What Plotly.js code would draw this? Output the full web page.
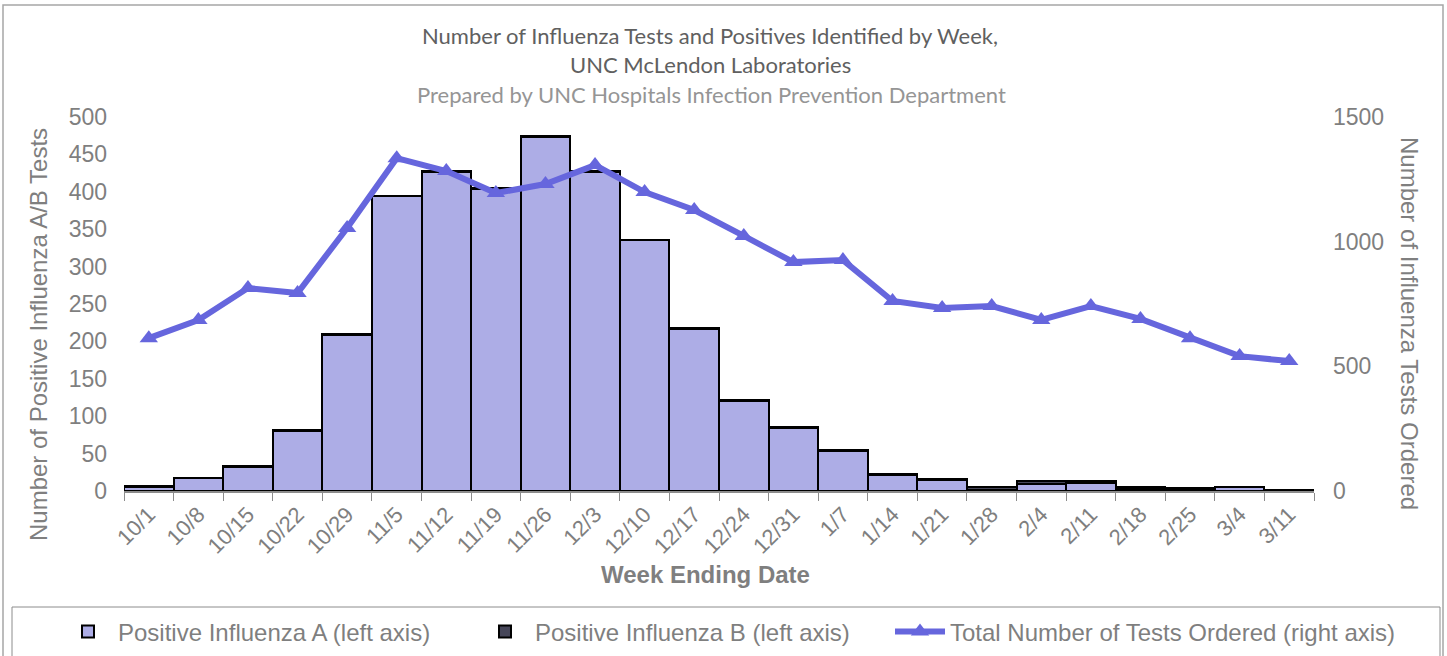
<!DOCTYPE html>
<html>
<head>
<meta charset="utf-8">
<script src="https://cdn.plot.ly/plotly-3.0.1.min.js"></script>
<style>html,body{margin:0;padding:0;background:#fff;}#chart{width:1447px;height:656px;}</style>
</head>
<body>
<div id="chart"></div>
<script>
// ---- data ----
const weeks = ["10/1","10/8","10/15","10/22","10/29","11/5","11/12","11/19","11/26","12/3","12/10","12/17","12/24","12/31","1/7","1/14","1/21","1/28","2/4","2/11","2/18","2/25","3/4","3/11"];
const positiveA = [5,17,32,80,209,394,427,404,473,427,335,217,120,84,53,22,15,1,10,11,3,2,5,0];
const positiveB = [2,1,1,1,1,1,1,1,1,1,1,1,1,1,2,1,1,4,3,2,3,2,1,1];
const totalTests = [613,686,814,794,1055,1335,1283,1195,1231,1307,1199,1127,1023,918,926,762,734,742,686,742,690,613,541,521];
const leftTicks = [0,50,100,150,200,250,300,350,400,450,500];
const rightTicks = [0,500,1000,1500];

const gray = "#7f7f7f";
const axisFont = {family: "Liberation Sans, Arial, sans-serif", size: 23, color: gray};
const legendFont = {family: "Liberation Sans, Arial, sans-serif", size: 24, color: gray};

// plot area in pixels: x 124..1314, y 117..491
const L = 124, R = 1314, T = 117, B = 491;
const px = x => (x - L) / (R - L);
const py = y => (B - y) / (B - T);

const traces = [
  {type: "bar", name: "Positive Influenza A (left axis)", x: weeks, y: positiveA, legend: "legend",
   marker: {color: "#adade6", line: {color: "#000", width: 2}}},
  {type: "bar", name: "Positive Influenza B (left axis)", x: weeks, y: positiveB, legend: "legend2",
   marker: {color: "#464659", line: {color: "#000", width: 2}}},
  {type: "scatter", mode: "lines+markers", name: "Total Number of Tests Ordered (right axis)",
   x: weeks, y: totalTests, yaxis: "y2", legend: "legend3",
   line: {color: "#6666dd", width: 6},
   marker: {symbol: "triangle-up", size: 16, color: "#6666dd"}}
];

function legendAt(xpx) {
  return {orientation: "h", x: px(xpx), xanchor: "left", y: py(632), yanchor: "middle",
          font: legendFont, itemwidth: 50, bgcolor: "rgba(0,0,0,0)"};
}

const layout = {
  width: 1447, height: 656,
  margin: {l: L, r: 1447 - R, t: T, b: 656 - B, pad: 0, autoexpand: false},
  paper_bgcolor: "#fff", plot_bgcolor: "#fff",
  barmode: "stack", bargap: 0,
  showlegend: true,
  legend: legendAt(58),
  legend2: legendAt(475),
  legend3: legendAt(890),
  xaxis: {type: "category", range: [-0.5, weeks.length - 0.5], showgrid: false, zeroline: false,
          showline: true, linecolor: "#8c8c8c", linewidth: 2,
          ticks: "outside", tickson: "boundaries", ticklen: 8, tickcolor: "#8c8c8c", tickwidth: 1,
          tickangle: -45, tickfont: {family: "Liberation Sans, Arial, sans-serif", size: 22, color: gray},
          automargin: false},
  yaxis: {range: [0, 500], tickvals: leftTicks, showgrid: false, zeroline: false, showline: false,
          ticks: "", tickfont: axisFont, ticklabelstandoff: 16, automargin: false},
  yaxis2: {range: [0, 1500], tickvals: rightTicks, overlaying: "y", side: "right",
           showgrid: false, zeroline: false, showline: false, ticks: "",
           tickfont: axisFont, ticklabelstandoff: 18, automargin: false},
  shapes: [
    {type: "rect", xref: "paper", yref: "paper", x0: px(3), x1: px(1443), y0: py(700), y1: py(5),
     line: {color: "#a6a6a6", width: 1.5}, fillcolor: "rgba(0,0,0,0)", layer: "below"},
    {type: "rect", xref: "paper", yref: "paper", x0: px(12), x1: px(1440), y0: py(700), y1: py(607),
     line: {color: "#8c8c8c", width: 1}, fillcolor: "rgba(0,0,0,0)", layer: "below"}
  ],
  annotations: [
    {text: "Number of Influenza Tests and Positives Identified by Week,", xref: "paper", yref: "paper",
     x: px(710), y: py(35), xanchor: "center", yanchor: "middle", showarrow: false,
     font: {family: "Lato, Open Sans, sans-serif", size: 22, color: "#606060"}},
    {text: "UNC McLendon Laboratories", xref: "paper", yref: "paper",
     x: px(710), y: py(64), xanchor: "center", yanchor: "middle", showarrow: false,
     font: {family: "Lato, Open Sans, sans-serif", size: 22, color: "#606060"}},
    {text: "Prepared by UNC Hospitals Infection Prevention Department", xref: "paper", yref: "paper",
     x: px(711), y: py(94), xanchor: "center", yanchor: "middle", showarrow: false,
     font: {family: "Lato, Open Sans, sans-serif", size: 22, color: "#959595"}},
    {text: "Number of Positive Influenza A/B Tests", xref: "paper", yref: "paper",
     x: px(38), y: py(335), xanchor: "center", yanchor: "middle", textangle: -90, showarrow: false,
     font: {family: "Liberation Sans, Arial, sans-serif", size: 24, color: gray}},
    {text: "Number of Influenza Tests Ordered", xref: "paper", yref: "paper",
     x: px(1410), y: py(323), xanchor: "center", yanchor: "middle", textangle: 90, showarrow: false,
     font: {family: "Liberation Sans, Arial, sans-serif", size: 24, color: gray}},
    {text: "<b>Week Ending Date</b>", xref: "paper", yref: "paper",
     x: px(705), y: py(574), xanchor: "center", yanchor: "middle", showarrow: false,
     font: {family: "Liberation Sans, Arial, sans-serif", size: 24, color: gray}}
  ]
};

Plotly.newPlot("chart", traces, layout, {displayModeBar: false, staticPlot: true});
</script>
</body>
</html>
